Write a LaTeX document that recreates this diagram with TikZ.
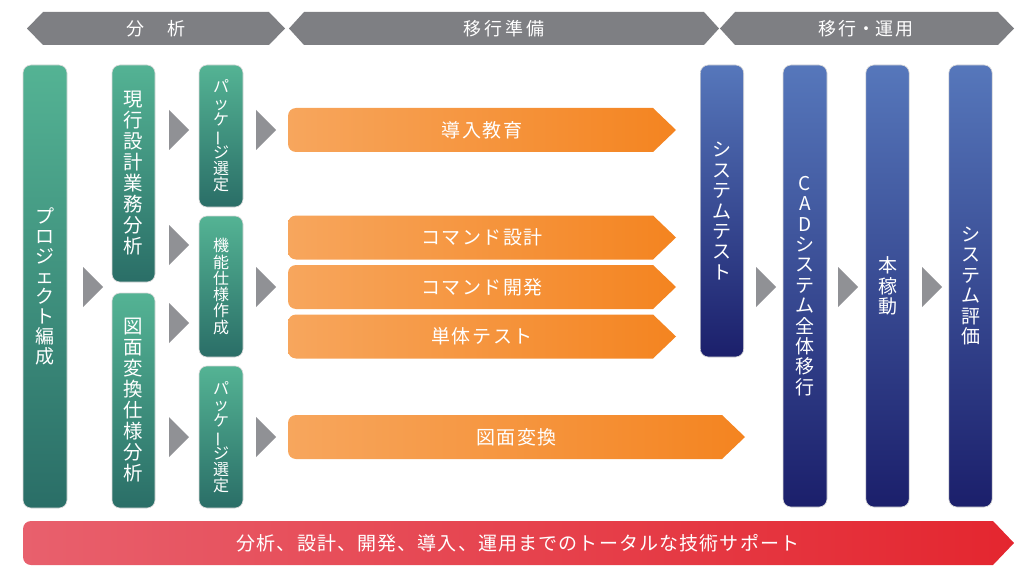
\documentclass[tikz,border=0pt]{standalone}
\usepackage{fontspec}
\usepackage{graphicx}
\setmainfont{Noto Sans CJK JP}

\definecolor{bannergray}{HTML}{7E7F83}
\definecolor{trigray}{HTML}{909195}
\definecolor{grntop}{HTML}{54B394}
\definecolor{grnbot}{HTML}{2A6E67}
\definecolor{blutop}{HTML}{5677BB}
\definecolor{blubot}{HTML}{1B1F6B}
\definecolor{orgl}{HTML}{F7A65D}
\definecolor{orgr}{HTML}{F48420}
\definecolor{redl}{HTML}{E8606D}
\definecolor{redr}{HTML}{E4262F}

\newcommand{\tatebar}{\rotatebox[origin=c]{90}{ー}}
\newcommand{\tategap}{\lineskiplimit -50pt\relax}

\begin{document}
\begin{tikzpicture}[x=0.75pt, y=-0.75pt, semithick]
	\tikzstyle{col}=[rounded corners=6pt, draw=black!15, line width=0.5pt, text=white, align=center, inner sep=0pt]
	\tikzstyle{grncol}=[col, top color=grntop, bottom color=grnbot]
	\tikzstyle{blucol}=[col, top color=blutop, bottom color=blubot, minimum width=32.5pt]
	\tikzstyle{tatebig}=[font=\fontsize{14.25pt}{15pt}\selectfont\tategap]
	\tikzstyle{tatemid}=[font=\fontsize{14.6pt}{15.75pt}\selectfont\tategap]
	\tikzstyle{tatesmall}=[font=\fontsize{12pt}{12.2pt}\selectfont\tategap]
	\tikzstyle{tateblu}=[font=\fontsize{14.25pt}{15.3pt}\selectfont\tategap]
	\tikzstyle{banner}=[fill=bannergray]
	\tikzstyle{bantext}=[text=white, font=\fontsize{13.5pt}{15pt}\selectfont\addfontfeature{LetterSpace=15}]
	\tikzstyle{htext}=[text=white, font=\fontsize{14.25pt}{17pt}\selectfont\addfontfeature{LetterSpace=8}]
	\tikzstyle{redtext}=[text=white, font=\fontsize{14.25pt}{17pt}\selectfont\addfontfeature{LetterSpace=6}]
	\tikzstyle{orgarrow}=[left color=orgl, right color=orgr]
	\tikzstyle{redarrow}=[left color=redl, right color=redr]
	
	\useasboundingbox (0,0) rectangle (1024,574);
	
	% phase banners
	\path[banner] (27,28.5) -- (43,12) -- (269,12) -- (285,28.5) -- (269,45) -- (43,45) -- cycle;
	\path[banner] (289,28.5) -- (304,12) -- (704,12) -- (719,28.5) -- (704,45) -- (304,45) -- cycle;
	\path[banner] (720,28.5) -- (735,12) -- (998,12) -- (1014,28.5) -- (998,45) -- (735,45) -- cycle;
	\node [bantext] (bunseki) at (156,28.5) {分　析};
	\node [bantext] (junbi) at (504,28.5) {移行準備};
	\node [bantext] (unyo) at (866,28.5) {移行{\addfontfeature{LetterSpace=0}・}運用};
	
	% analysis columns
	\node [grncol, tatebig, minimum width=33pt, minimum height=443*0.75pt] (proj) at (45,286.5)
		{プ\\ロ\\ジ\\ェ\\ク\\ト\\編\\成};
	\node [grncol, tatemid, minimum width=32.25pt, minimum height=217*0.75pt] (genko) at (133.5,173.5)
		{現\\行\\設\\計\\業\\務\\分\\析};
	\node [grncol, tatemid, minimum width=32.25pt, minimum height=215*0.75pt] (zumen) at (133.5,400.5)
		{図\\面\\変\\換\\仕\\様\\分\\析};
	\node [grncol, tatesmall, minimum width=33pt, minimum height=142*0.75pt] (pkgA) at (221,136)
		{パ\\ッ\\ケ\\\tatebar\\ジ\\選\\定};
	\node [grncol, tatesmall, minimum width=33pt, minimum height=141*0.75pt] (kino) at (221,286.5)
		{機\\能\\仕\\様\\作\\成};
	\node [grncol, tatesmall, minimum width=33pt, minimum height=142*0.75pt] (pkgB) at (221,437)
		{パ\\ッ\\ケ\\\tatebar\\ジ\\選\\定};
	
	% preparation arrows
	\foreach \n/\y/\xe/\t in {kyoiku/130/653/導入教育, cmdsekkei/237.5/653/コマンド設計,
		cmdkaihatsu/287/653/コマンド開発, tantai/336.5/653/単体テスト, henkan/437/722/図面変換}
	{
		\path[orgarrow] (\xe+23,\y) -- (\xe,\y+22) [rounded corners=6pt] -- (288,\y+22) -- (288,\y-22)
			[sharp corners] -- (\xe,\y-22) -- cycle;
		\node [htext] (\n) at ({(288+\xe+23)/2},\y) {\t};
	}
	
	% operation columns
	\node [blucol, tateblu, minimum height=292*0.75pt] (systest) at (722,211)
		{シ\\ス\\テ\\ム\\テ\\ス\\ト};
	\node [blucol, tateblu, minimum width=33pt, minimum height=442*0.75pt] (cad) at (805,286)
		{C\\A\\D\\シ\\ス\\テ\\ム\\全\\体\\移\\行};
	\node [blucol, tateblu, minimum height=442*0.75pt] (honka) at (887.5,286)
		{本\\稼\\動};
	\node [blucol, tateblu, minimum height=442*0.75pt] (hyoka) at (970.5,286)
		{シ\\ス\\テ\\ム\\評\\価};
	
	% step markers
	\foreach \x/\y in {83/287, 169/130, 169/245, 169/323, 169/437, 256/130, 256/287, 256/437,
		756/287, 838/287, 922/287}
		\path[fill=trigray] (\x,\y-20) -- (\x+20,\y) -- (\x,\y+20) -- cycle;
	
	% support arrow
	\path[redarrow] (1014,543) -- (993,565) [rounded corners=6pt] -- (23,565) -- (23,521)
		[sharp corners] -- (993,521) -- cycle;
	\node [redtext] (support) at (518,543) {分析、設計、開発、導入、運用までのトータルな技術サポート};
\end{tikzpicture}
\end{document}
